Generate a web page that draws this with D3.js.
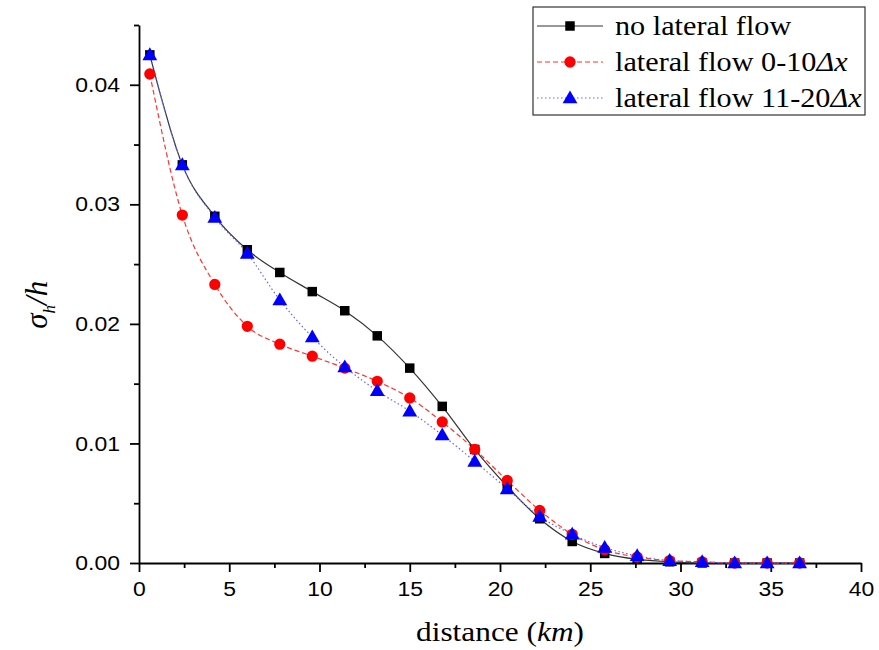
<!DOCTYPE html>
<html>
<head>
<meta charset="utf-8">
<script src="https://cdn.jsdelivr.net/npm/d3@7"></script>
<style>
  body { margin: 0; background: #fff; }
  svg { display: block; }
  .tick text { font-family: "Liberation Sans", Arial, sans-serif; font-size: 20.5px; fill: #000; }
  .axis path, .axis line { stroke: #000; stroke-width: 1.8px; }
  .serif { font-family: "Liberation Serif", "Times New Roman", serif; fill: #000; }
</style>
</head>
<body>
<div id="chart"></div>
<script>
// distance along the channel (km)
const distance = [0.6, 2.4, 4.2, 6.0, 7.8, 9.6, 11.4, 13.2, 15.0, 16.8, 18.6,
  20.4, 22.2, 24.0, 25.8, 27.6, 29.4, 31.2, 33.0, 34.8, 36.6];

// sigma_h / h
const noLateral = [0.0425, 0.0333, 0.0290, 0.0262, 0.0243, 0.0227, 0.0211, 0.0190,
  0.0163, 0.0131, 0.0095, 0.0064, 0.0037, 0.0018, 0.0008, 0.0003, 0.0001, 0, 0, 0, 0];
const lateral0to10 = [0.0409, 0.0291, 0.0233, 0.0198, 0.0183, 0.0173, 0.0163, 0.0152,
  0.0138, 0.0118, 0.0095, 0.0069, 0.0044, 0.0024, 0.0011, 0.0005, 0.0002, 0.0001, 0, 0, 0];
const lateral11to20 = [0.0425, 0.0333, 0.0289, 0.0259, 0.0220, 0.0189, 0.0164, 0.0144,
  0.0127, 0.0107, 0.0085, 0.0062, 0.0039, 0.0024, 0.0013, 0.0006, 0.0002, 0.0001, 0, 0, 0];

const xTicks = [0, 5, 10, 15, 20, 25, 30, 35, 40];
const yTicks = [0.00, 0.01, 0.02, 0.03, 0.04];
const seriesNames = ['no lateral flow', 'lateral flow 0-10', 'lateral flow 11-20'];

const width = 879, height = 650;
const margin = {left: 139, right: 18, top: 25, bottom: 87};
const stretch = 1.12; // the original text is a little wider than Liberation

const svg = d3.select('#chart').append('svg')
  .attr('width', width)
  .attr('height', height);

const x = d3.scaleLinear().domain([0, 40]).range([margin.left, width - margin.right]);
const y = d3.scaleLinear().domain([0, 0.045]).range([height - margin.bottom, margin.top]);

// widen tick labels without moving their anchor
function widen(g) {
  g.selectAll('.tick text').each(function () {
    const t = d3.select(this);
    const x0 = +t.attr('x') || 0;
    t.attr('x', x0 / stretch).attr('transform', `scale(${stretch},1)`);
  });
}

// minor ticks first, then the major axes on top
svg.append('g')
  .attr('class', 'axis')
  .attr('transform', `translate(0,${y(0)})`)
  .call(d3.axisBottom(x).tickValues(d3.range(2.5, 40, 5)).tickSize(5).tickFormat(''))
  .call(g => g.select('.domain').remove());
svg.append('g')
  .attr('class', 'axis')
  .attr('transform', `translate(${x(0)},0)`)
  .call(d3.axisLeft(y).tickValues([0.005, 0.015, 0.025, 0.035, 0.045]).tickSize(5).tickFormat(''))
  .call(g => g.select('.domain').remove());

svg.append('g')
  .attr('class', 'axis')
  .attr('transform', `translate(0,${y(0)})`)
  .call(d3.axisBottom(x).tickValues(xTicks).tickSize(9).tickSizeOuter(0).tickPadding(9).tickFormat(d3.format('d')))
  .call(widen);
svg.append('g')
  .attr('class', 'axis')
  .attr('transform', `translate(${x(0)},0)`)
  .call(d3.axisLeft(y).tickValues(yTicks).tickSize(9).tickSizeOuter(0).tickPadding(10).tickFormat(d3.format('.2f')))
  .call(widen);

// axis titles
svg.append('text')
  .attr('class', 'serif')
  .attr('transform', `translate(${(x(0) + x(40)) / 2},641) scale(${stretch},1)`)
  .attr('text-anchor', 'middle')
  .style('font-size', '28px')
  .html('distance (<tspan font-style="italic">km</tspan>)');

svg.append('text')
  .attr('class', 'serif')
  .attr('transform', `translate(47,${y(0.0216)}) rotate(-90)`)
  .attr('text-anchor', 'middle')
  .style('font-size', '31px')
  .style('font-style', 'italic')
  .html('σ<tspan dy="8" font-size="17px">h</tspan><tspan dy="-8">/h</tspan>');

const series = [
  {name: seriesNames[0], values: noLateral, color: '#000', line: '#333', dash: null, marker: 'square'},
  {name: seriesNames[1], values: lateral0to10, color: '#f00', line: '#f33', dash: '5,3', marker: 'circle'},
  {name: seriesNames[2], values: lateral11to20, color: '#00f', line: '#66f', dash: '1.5,2.5', marker: 'triangle'}
];

const line = d3.line()
  .x(d => x(d[0]))
  .y(d => y(d[1]))
  .curve(d3.curveMonotoneX);

const symbolOf = {
  square: d3.symbol().type(d3.symbolSquare).size(90),
  circle: d3.symbol().type(d3.symbolCircle).size(100),
  triangle: d3.symbol().type(d3.symbolTriangle).size(95)
};

series.forEach(function (s) {
  const pts = distance.map((d, i) => [d, s.values[i]]);
  svg.append('path')
    .attr('d', line(pts))
    .attr('fill', 'none')
    .attr('stroke', s.line)
    .attr('stroke-width', 1.2)
    .attr('stroke-dasharray', s.dash);
});

series.forEach(function (s) {
  svg.append('g').selectAll('path')
    .data(distance.map((d, i) => [d, s.values[i]]))
    .join('path')
    .attr('d', symbolOf[s.marker])
    .attr('transform', d => `translate(${x(d[0])},${y(d[1]) + (s.marker === 'triangle' ? 1 : 0)})`)
    .attr('fill', s.color);
});

// legend
const lg = svg.append('g').attr('transform', 'translate(533,7)');
lg.append('rect')
  .attr('width', 332)
  .attr('height', 108)
  .attr('fill', '#fff')
  .attr('stroke', '#333')
  .attr('stroke-width', 1.2);

series.forEach(function (s, i) {
  const row = lg.append('g').attr('transform', `translate(0,${19 + i * 36})`);
  row.append('line')
    .attr('x1', 4).attr('x2', 70)
    .attr('stroke', s.line)
    .attr('stroke-width', 1.2)
    .attr('stroke-dasharray', s.dash);
  row.append('path')
    .attr('d', symbolOf[s.marker])
    .attr('transform', `translate(37,${s.marker === 'triangle' ? 1 : 0})`)
    .attr('fill', s.color);
  const t = row.append('text')
    .attr('class', 'serif')
    .attr('transform', `translate(82,9) scale(${stretch},1)`)
    .style('font-size', '27px')
    .text(s.name);
  if (i > 0) {
    t.append('tspan').attr('font-style', 'italic').text('Δx');
  }
});
</script>
</body>
</html>
